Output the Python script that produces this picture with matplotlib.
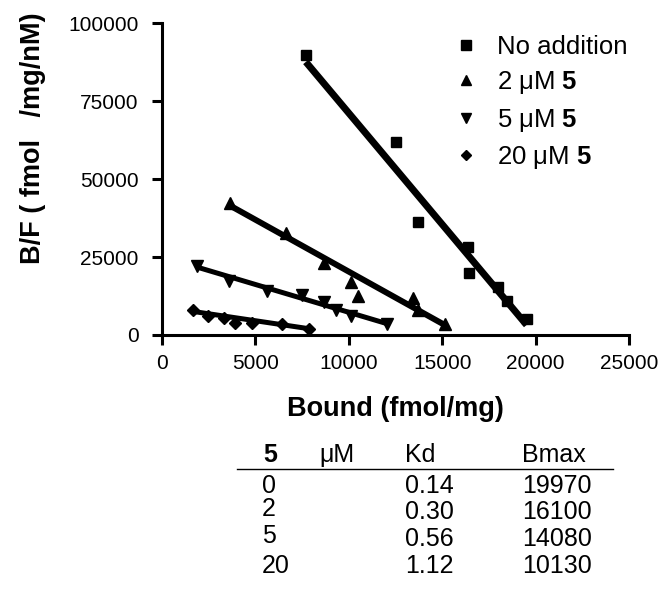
import matplotlib
matplotlib.use("Agg")
import matplotlib.pyplot as plt
from matplotlib.lines import Line2D
import numpy as np

plt.rcParams['font.family'] = ['Liberation Sans', 'DejaVu Sans']
plt.rcParams['mathtext.fontset'] = 'custom'
plt.rcParams['mathtext.rm'] = 'Liberation Sans'
plt.rcParams['mathtext.bf'] = 'Liberation Sans:bold'

# ---- data ----
sq_x = [7700, 12530, 13690, 16400, 16450, 18000, 18450, 19520]
sq_y = [89800, 61800, 36400, 28300, 19800, 15500, 11000, 5100]

up_x = [3640, 6640, 8670, 10120, 10510, 13420, 13700, 15150]
up_y = [42300, 32600, 23000, 17100, 12500, 11800, 8000, 3500]

dn_x = [1890, 3590, 5600, 7480, 8670, 9300, 10100, 12030]
dn_y = [22240, 17330, 14220, 12840, 10690, 8020, 6100, 3530]

di_x = [1640, 2480, 3320, 3910, 4800, 6410, 7890]
di_y = [8020, 6100, 5340, 3950, 3750, 3530, 1830]

labels = ["No addition", r"2 μM $\mathbf{5}$", r"5 μM $\mathbf{5}$", r"20 μM $\mathbf{5}$"]

conc = ["0", "2", "5", "20"]
kd = [0.14, 0.30, 0.56, 1.12]
bmax = [19970, 16100, 14080, 10130]

x_ticks = [0, 5000, 10000, 15000, 20000, 25000]
y_ticks = [0, 25000, 50000, 75000, 100000]

# ---- figure ----
W, H = 670, 600
fig = plt.figure(figsize=(6.7, 6.0), dpi=100)
ax = fig.add_axes([162 / W, 1 - 335 / H, (629 - 162) / W, (335 - 23.4) / H])

series = [
    (sq_x, sq_y, 's', 7.5, 5.0),
    (up_x, up_y, '^', 8.5, 4.3),
    (dn_x, dn_y, 'v', 8.5, 3.6),
    (di_x, di_y, 'D', 6.0, 3.6),
]
for i, (xs, ys, m, ms, lw) in enumerate(series):
    ax.plot(xs, ys, linestyle='none', marker=m, ms=ms, color='black', clip_on=False, zorder=3)
    xx = np.array([min(xs), max(xs)], dtype=float)
    yy = (bmax[i] - xx) / kd[i]
    ax.plot(xx, yy, color='black', lw=lw, solid_capstyle='butt', clip_on=False, zorder=2)

ax.set_xlim(0, 25000)
ax.set_ylim(0, 100000)
ax.set_xticks(x_ticks)
ax.set_yticks(y_ticks)
ax.set_xticklabels([str(v) for v in x_ticks])
ax.set_yticklabels([str(v) for v in y_ticks])
for s in ['top', 'right']:
    ax.spines[s].set_visible(False)
for s in ['left', 'bottom']:
    ax.spines[s].set_linewidth(2.2)
ax.tick_params(axis='both', direction='out', length=7, width=2.2, labelsize=15, colors='black')
ax.tick_params(axis='y', pad=10)
ax.tick_params(axis='x', pad=7)

ax.set_xlabel("Bound (fmol/mg)", fontsize=19.5, fontweight='bold', labelpad=16)
fig.text(33 / W, 1 - 138 / H, "B/F ( fmol   /mg/nM)", rotation=90, fontsize=19.5,
         fontweight='bold', ha='center', va='center')

# legend
handles = [
    Line2D([], [], linestyle='none', marker='s', ms=6.5, color='black'),
    Line2D([], [], linestyle='none', marker='^', ms=7, color='black'),
    Line2D([], [], linestyle='none', marker='v', ms=7, color='black'),
    Line2D([], [], linestyle='none', marker='D', ms=5, color='black'),
]
ax.legend(handles, labels, loc='upper left', bbox_to_anchor=((453 - 162) / 467, (335 - 35) / 311.6),
          frameon=False, fontsize=18.5, handlelength=1.0, handletextpad=0.72,
          labelspacing=0.40, borderpad=0, borderaxespad=0)

# table
fs = 18
def fy(py):
    return 1 - py / H
fig.text(263 / W, fy(455), "5", fontsize=fs, fontweight='bold', ha='left', va='center')
fig.text(319 / W, fy(455), "μM", fontsize=fs, ha='left', va='center')
fig.text(405 / W, fy(455), "Kd", fontsize=fs, ha='left', va='center')
fig.text(522 / W, fy(455), "Bmax", fontsize=fs, ha='left', va='center')
fig.add_artist(Line2D([237 / W, 613 / W], [fy(469), fy(469)], color='black', lw=1.0))
row_y = [486, 512, 539, 566]
lab_dy = [0, -3, -3, 0]
for c, k, b, ry, d in zip(conc, kd, bmax, row_y, lab_dy):
    fig.text(262 / W, fy(ry + d), c, fontsize=fs, ha='left', va='center')
    fig.text(405 / W, fy(ry), f"{k:.2f}", fontsize=fs, ha='left', va='center')
    fig.text(522 / W, fy(ry), f"{b}", fontsize=fs, ha='left', va='center')

fig.savefig("out.png", dpi=100, facecolor='white')
